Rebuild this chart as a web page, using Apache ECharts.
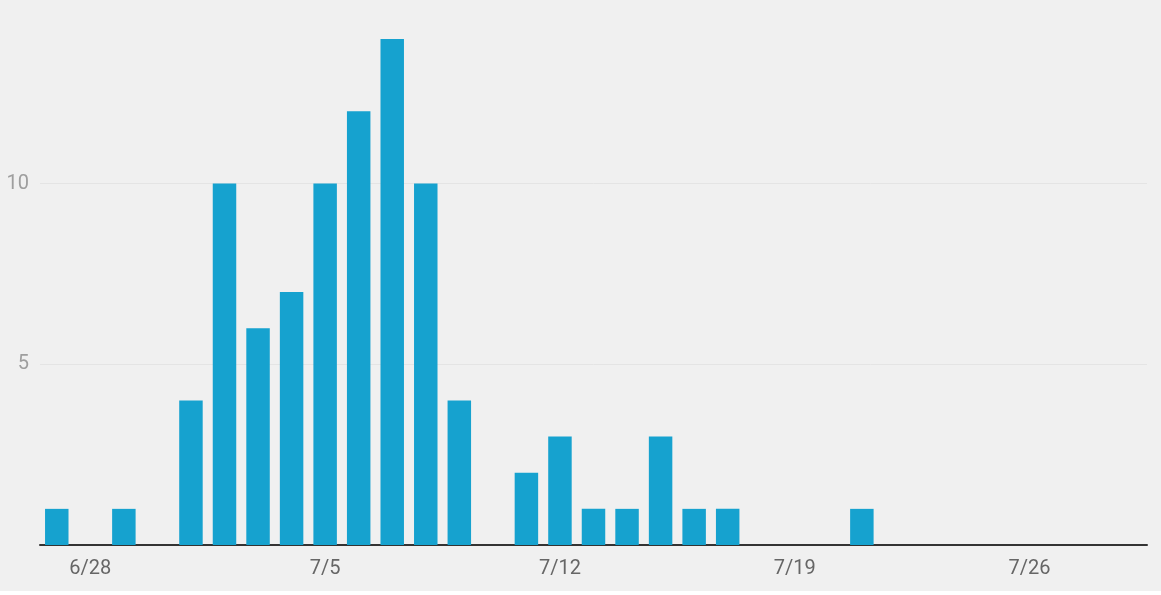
<!DOCTYPE html>
<html>
<head>
<meta charset="utf-8">
<script src="https://cdn.jsdelivr.net/npm/echarts@6/dist/echarts.min.js"></script>
<style>
html,body{margin:0;padding:0;background:#ffffff;}
#chart{width:1161px;height:591px;background:#f0f0f0;}
</style>
</head>
<body>
<div id="chart"></div>
<script>
var categories = ['6/27','6/28','6/29','6/30','7/1','7/2','7/3','7/4','7/5','7/6','7/7','7/8','7/9','7/10','7/11','7/12','7/13','7/14','7/15','7/16','7/17','7/18','7/19','7/20','7/21','7/22','7/23','7/24','7/25','7/26','7/27','7/28','7/29'];
var counts = [1,0,1,0,4,10,6,7,10,12,14,10,4,0,2,3,1,1,3,1,1,0,0,0,1,0,0,0,0,0,0,0,0];
var yTicks = [0,5,10];

var chart = echarts.init(document.getElementById('chart'), null, {renderer:'canvas'});
chart.setOption({
  backgroundColor: '#f0f0f0',
  animation: false,
  grid: {left: 40, right: 14, top: 39, bottom: 46},
  xAxis: {
    type: 'category',
    data: categories,
    boundaryGap: true,
    axisLine: {show: true, lineStyle: {color: '#333333', width: 2}},
    axisTick: {show: false},
    axisLabel: {
      interval: function(i){ return (i - 1) % 7 === 0; },
      color: '#666666',
      fontFamily: 'Roboto',
      fontSize: 20,
      margin: 14
    },
    splitLine: {show: false}
  },
  yAxis: {
    type: 'value',
    min: yTicks[0],
    max: 14,
    interval: yTicks[1] - yTicks[0],
    axisLine: {show: false},
    axisTick: {show: false},
    axisLabel: {
      showMinLabel: false,
      showMaxLabel: false,
      color: '#9e9e9e',
      fontFamily: 'Roboto',
      fontSize: 20,
      margin: 11
    },
    splitLine: {show: true, showMaxLine: false, showMinLine: false, lineStyle: {color: '#e4e4e4', width: 1}}
  },
  series: [{
    type: 'bar',
    data: counts,
    barCategoryGap: '30%',
    itemStyle: {color: '#16a2cf'},
    silent: true
  }]
});
</script>
</body>
</html>
